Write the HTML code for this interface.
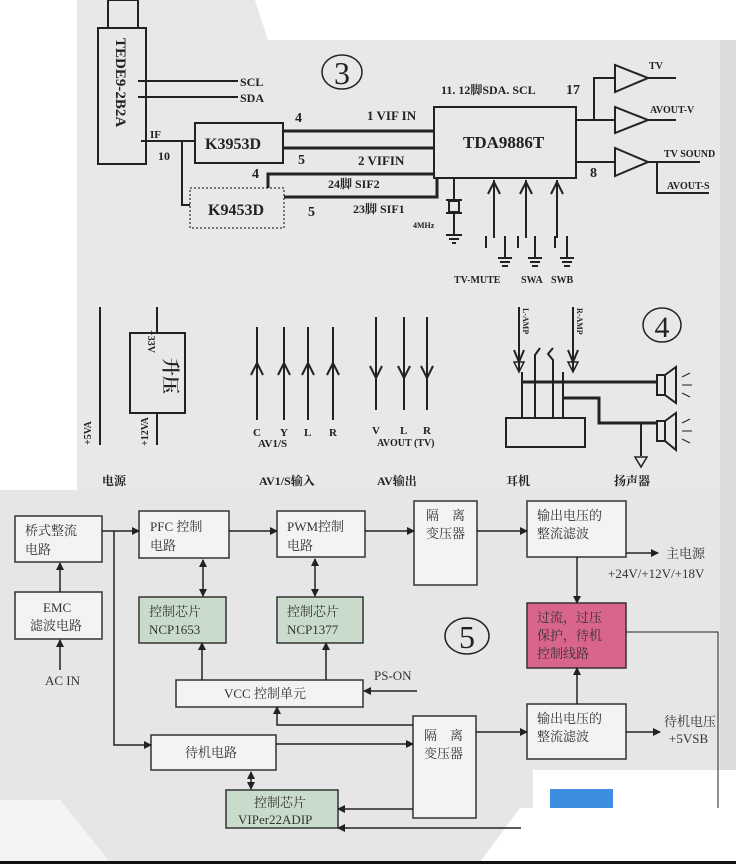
<!DOCTYPE html>
<html><head><meta charset="utf-8">
<style>
html,body{margin:0;padding:0;background:#fff;}
svg{display:block;}
.t{font-family:"Liberation Serif","Noto Serif CJK SC",serif;font-weight:bold;fill:#222;}
.c{font-family:"Liberation Serif","Noto Serif CJK SC",serif;fill:#333;font-size:13px;}
</style></head>
<body>
<svg width="736" height="864" viewBox="0 0 736 864" xmlns="http://www.w3.org/2000/svg">
<defs>
<marker id="a" markerWidth="8" markerHeight="8" refX="7" refY="4" orient="auto" markerUnits="userSpaceOnUse"><path d="M0,0 L8,4 L0,8 Z" fill="#222"/></marker>
<marker id="as" markerWidth="8" markerHeight="8" refX="1" refY="4" orient="auto" markerUnits="userSpaceOnUse"><path d="M8,0 L0,4 L8,8 Z" fill="#222"/></marker>
</defs>
<!-- backgrounds -->
<rect width="736" height="864" fill="#fff"/>
<polygon points="77,0 255,0 268,40 736,40 736,864 77,864" fill="#e8e8e8"/>
<rect x="0" y="490" width="736" height="374" fill="#e6e6e6"/>
<rect x="720" y="40" width="16" height="730" fill="#dcdcdc"/>
<polygon points="533,770 736,770 736,862 480,862 520,808 533,808" fill="#fff"/>
<polygon points="0,800 60,800 110,862 0,862" fill="#f4f4f4"/>
<rect x="0" y="861" width="736" height="3" fill="#111"/>

<g stroke="#222" stroke-width="2" fill="none">
<!-- section 3 top -->
<rect x="108" y="0" width="30" height="28"/>
<rect x="98" y="28" width="48" height="136"/>
<line x1="138" y1="81" x2="238" y2="81"/>
<line x1="138" y1="97" x2="238" y2="97"/>
<line x1="141" y1="141" x2="195" y2="141"/>
<rect x="195" y="123" width="88" height="40"/>
<polyline points="182,141 182,205 190,205"/>
<rect x="190" y="188" width="94" height="40" stroke-dasharray="2,2" stroke="#777"/>
<line x1="283" y1="131" x2="434" y2="131" stroke-width="3"/>
<line x1="283" y1="148" x2="434" y2="148" stroke-width="3"/>
<rect x="434" y="107" width="142" height="71"/>
<polyline points="268,188 268,174 434,174" stroke-width="3"/>
<polyline points="284,197 437,197 437,178" stroke-width="3"/>
<line x1="454" y1="178" x2="454" y2="200"/>
<rect x="449" y="201" width="10" height="11"/>
<line x1="446" y1="200" x2="462" y2="200"/><line x1="446" y1="213" x2="462" y2="213"/>
<line x1="454" y1="213" x2="454" y2="235"/>
<line x1="446" y1="235" x2="462" y2="235"/><line x1="449" y1="239" x2="459" y2="239"/><line x1="452" y1="243" x2="456" y2="243"/>
<g>
<line x1="494" y1="180" x2="494" y2="238"/><polyline points="488,194 494,182 500,194"/>
<line x1="486" y1="236" x2="486" y2="248"/><line x1="505" y1="236" x2="505" y2="258"/>
<line x1="498" y1="258" x2="512" y2="258"/><line x1="500" y1="262" x2="510" y2="262"/><line x1="502" y1="266" x2="508" y2="266"/>
<line x1="526" y1="180" x2="526" y2="238"/><polyline points="520,194 526,182 532,194"/>
<line x1="518" y1="236" x2="518" y2="248"/><line x1="535" y1="236" x2="535" y2="258"/>
<line x1="528" y1="258" x2="542" y2="258"/><line x1="530" y1="262" x2="540" y2="262"/><line x1="532" y1="266" x2="538" y2="266"/>
<line x1="557" y1="180" x2="557" y2="238"/><polyline points="551,194 557,182 563,194"/>
<line x1="555" y1="236" x2="555" y2="248"/><line x1="567" y1="236" x2="567" y2="258"/>
<line x1="560" y1="258" x2="574" y2="258"/><line x1="562" y1="262" x2="572" y2="262"/><line x1="564" y1="266" x2="570" y2="266"/>
</g>
<polyline points="576,120 615,120"/>
<polyline points="594,120 594,78 615,78"/>
<line x1="576" y1="162" x2="615" y2="162"/>
<polygon points="615,65 615,92 648,78"/>
<polygon points="615,107 615,133 648,120"/>
<polygon points="615,148 615,176 648,162"/>
<line x1="648" y1="78" x2="676" y2="78"/>
<line x1="648" y1="120" x2="676" y2="120"/>
<line x1="648" y1="162" x2="700" y2="162"/>
<polyline points="657,162 657,193 709,193"/>
<ellipse cx="342" cy="72" rx="20" ry="17" stroke-width="1.5"/>

<!-- section 4 -->
<line x1="100" y1="307" x2="100" y2="445"/>
<rect x="130" y="333" width="55" height="80"/>
<line x1="157" y1="307" x2="157" y2="333"/>
<line x1="157" y1="413" x2="157" y2="445"/>
<g>
<line x1="257" y1="327" x2="257" y2="420"/><polyline points="251,375 257,363 263,375"/>
<line x1="284" y1="327" x2="284" y2="420"/><polyline points="278,375 284,363 290,375"/>
<line x1="308" y1="327" x2="308" y2="420"/><polyline points="302,375 308,363 314,375"/>
<line x1="333" y1="327" x2="333" y2="420"/><polyline points="327,375 333,363 339,375"/>
<line x1="376" y1="317" x2="376" y2="410"/><polyline points="370,366 376,378 382,366"/>
<line x1="404" y1="317" x2="404" y2="410"/><polyline points="398,366 404,378 410,366"/>
<line x1="427" y1="317" x2="427" y2="410"/><polyline points="421,366 427,378 433,366"/>
</g>
<rect x="506" y="418" width="79" height="29"/>
<line x1="519" y1="307" x2="519" y2="372"/><polyline points="514,350 519,362 524,350"/>
<polygon points="514,362 524,362 519,372" stroke-width="1.5"/>
<line x1="573" y1="307" x2="573" y2="372"/><polyline points="568,350 573,362 578,350"/>
<polygon points="568,362 578,362 573,372" stroke-width="1.5"/>
<line x1="522" y1="372" x2="522" y2="418"/>
<polyline points="535,418 535,355 540,348"/>
<polyline points="553,418 553,360 548,354 553,348"/>
<line x1="563" y1="372" x2="563" y2="418"/>
<line x1="521" y1="382" x2="657" y2="382" stroke-width="3"/>
<polyline points="563,398 599,398 599,423 657,423" stroke-width="3"/>
<line x1="641" y1="423" x2="641" y2="456"/>
<polygon points="635,457 647,457 641,467" stroke-width="1.5"/>
<rect x="657" y="375" width="8" height="20"/><polygon points="665,375 676,367 676,403 665,395"/>
<rect x="657" y="421" width="8" height="20"/><polygon points="665,421 676,413 676,450 665,441"/>
<line x1="682" y1="377" x2="690" y2="373" stroke-width="1"/><line x1="682" y1="385" x2="692" y2="385" stroke-width="1"/>
<line x1="682" y1="393" x2="690" y2="397" stroke-width="1"/><line x1="682" y1="423" x2="690" y2="419" stroke-width="1"/>
<line x1="682" y1="431" x2="692" y2="431" stroke-width="1"/><line x1="682" y1="439" x2="690" y2="443" stroke-width="1"/>
<ellipse cx="662" cy="325" rx="19" ry="17" stroke-width="1.5"/>
</g>

<!-- section 5 -->
<g stroke="#333" stroke-width="1.5">
<rect x="15" y="516" width="87" height="46" fill="#f3f3f3"/>
<rect x="15" y="592" width="87" height="47" fill="#f3f3f3"/>
<rect x="139" y="511" width="90" height="47" fill="#f3f3f3"/>
<rect x="277" y="511" width="88" height="46" fill="#f3f3f3"/>
<rect x="414" y="501" width="63" height="84" fill="#f3f3f3"/>
<rect x="527" y="501" width="99" height="56" fill="#f3f3f3"/>
<rect x="139" y="597" width="87" height="46" fill="#c9dccb"/>
<rect x="277" y="597" width="86" height="46" fill="#c9dccb"/>
<rect x="527" y="603" width="99" height="65" fill="#d9658a"/>
<rect x="176" y="680" width="187" height="27" fill="#f3f3f3"/>
<rect x="151" y="735" width="125" height="35" fill="#f3f3f3"/>
<rect x="413" y="716" width="63" height="102" fill="#f3f3f3"/>
<rect x="527" y="704" width="99" height="55" fill="#f3f3f3"/>
<rect x="226" y="790" width="112" height="38" fill="#c9dccb"/>
</g>
<rect x="550" y="789" width="63" height="19" fill="#3d8ee0"/>
<g stroke="#222" stroke-width="1.5" fill="none">
<line x1="60" y1="670" x2="60" y2="640" marker-end="url(#a)"/>
<line x1="60" y1="592" x2="60" y2="563" marker-end="url(#a)"/>
<line x1="102" y1="531" x2="139" y2="531" marker-end="url(#a)"/>
<line x1="229" y1="531" x2="277" y2="531" marker-end="url(#a)"/>
<line x1="365" y1="531" x2="414" y2="531" marker-end="url(#a)"/>
<line x1="477" y1="531" x2="527" y2="531" marker-end="url(#a)"/>
<line x1="626" y1="553" x2="658" y2="553" marker-end="url(#a)"/>
<line x1="577" y1="557" x2="577" y2="603" marker-end="url(#a)"/>
<line x1="203" y1="560" x2="203" y2="596" marker-end="url(#a)" marker-start="url(#as)"/>
<line x1="315" y1="559" x2="315" y2="596" marker-end="url(#a)" marker-start="url(#as)"/>
<line x1="202" y1="680" x2="202" y2="643" marker-end="url(#a)"/>
<line x1="326" y1="680" x2="326" y2="643" marker-end="url(#a)"/>
<line x1="417" y1="691" x2="364" y2="691" marker-end="url(#a)"/>
<polyline points="114,531 114,745 151,745" marker-end="url(#a)"/>
<line x1="276" y1="744" x2="413" y2="744" marker-end="url(#a)"/>
<polyline points="413,725 277,725 277,707" marker-end="url(#a)"/>
<line x1="476" y1="732" x2="527" y2="732" marker-end="url(#a)"/>
<line x1="577" y1="704" x2="577" y2="668" marker-end="url(#a)"/>
<line x1="626" y1="732" x2="660" y2="732" marker-end="url(#a)"/>
<line x1="251" y1="772" x2="251" y2="789" marker-end="url(#a)" marker-start="url(#as)"/>
<line x1="413" y1="809" x2="338" y2="809" marker-end="url(#a)"/>
<line x1="521" y1="828" x2="338" y2="828" marker-end="url(#a)"/>
<polyline points="626,632 718,632 718,808" stroke-width="1"/>
<ellipse cx="467" cy="636" rx="22" ry="18"/>
</g>

<!-- text section top -->
<text class="t" font-size="15" transform="translate(116,38) rotate(90)">TEDE9-2B2A</text>
<text class="t" font-size="12" x="240" y="86">SCL</text>
<text class="t" font-size="12" x="240" y="102">SDA</text>
<text class="t" font-size="11" x="150" y="138">IF</text>
<text class="t" font-size="12" x="158" y="160">10</text>
<text class="t" font-size="16" x="205" y="149">K3953D</text>
<text class="t" font-size="16" x="208" y="215">K9453D</text>
<text class="t" font-size="14" x="295" y="122">4</text>
<text class="t" font-size="14" x="298" y="164">5</text>
<text class="t" font-size="13" x="367" y="120">1 VIF IN</text>
<text class="t" font-size="13" x="358" y="165">2 VIFIN</text>
<text class="t" font-size="14" x="252" y="178">4</text>
<text class="t" font-size="12" x="328" y="188">24脚 SIF2</text>
<text class="t" font-size="14" x="308" y="216">5</text>
<text class="t" font-size="12" x="353" y="213">23脚 SIF1</text>
<text class="t" font-size="8" x="413" y="228">4MHz</text>
<text class="t" font-size="17" x="463" y="148">TDA9886T</text>
<text class="t" font-size="12" x="441" y="94">11. 12脚SDA. SCL</text>
<text class="t" font-size="14" x="566" y="94">17</text>
<text class="t" font-size="14" x="590" y="177">8</text>
<text class="t" font-size="10" x="454" y="283">TV-MUTE</text>
<text class="t" font-size="10" x="521" y="283">SWA</text>
<text class="t" font-size="10" x="551" y="283">SWB</text>
<text class="t" font-size="10" x="649" y="69">TV</text>
<text class="t" font-size="10" x="650" y="113">AVOUT-V</text>
<text class="t" font-size="10" x="664" y="157">TV SOUND</text>
<text class="t" font-size="10" x="667" y="189">AVOUT-S</text>
<text x="342" y="84" text-anchor="middle" font-family="Liberation Serif,serif" font-size="32" fill="#222">3</text>

<!-- text section 4 -->
<text class="t" font-size="10" transform="translate(91,445) rotate(-90)">+5VA</text>
<text class="t" font-size="10" transform="translate(148,330) rotate(90)">+33V</text>
<text class="t" font-size="10" transform="translate(148,446) rotate(-90)">+12VA</text>
<text class="t" font-size="18" transform="translate(164,358) rotate(90)">升压</text>
<text class="t" font-size="11" x="253" y="436">C</text><text class="t" font-size="11" x="280" y="436">Y</text>
<text class="t" font-size="11" x="304" y="436">L</text><text class="t" font-size="11" x="329" y="436">R</text>
<text class="t" font-size="11" x="258" y="447">AV1/S</text>
<text class="t" font-size="11" x="372" y="434">V</text><text class="t" font-size="11" x="400" y="434">L</text>
<text class="t" font-size="11" x="423" y="434">R</text>
<text class="t" font-size="10" x="377" y="446">AVOUT (TV)</text>
<text class="t" font-size="8" transform="translate(523,308) rotate(90)">L-AMP</text>
<text class="t" font-size="8" transform="translate(577,308) rotate(90)">R-AMP</text>
<text x="662" y="337" text-anchor="middle" font-family="Liberation Serif,serif" font-size="30" fill="#222">4</text>
<text class="t" font-size="12" x="102" y="485">电源</text>
<text class="t" font-size="12" x="259" y="485">AV1/S输入</text>
<text class="t" font-size="12" x="377" y="485">AV输出</text>
<text class="t" font-size="12" x="506" y="485">耳机</text>
<text class="t" font-size="12" x="614" y="485">扬声器</text>

<!-- text section 5 -->
<text class="c" x="25" y="535">桥式整流</text><text class="c" x="25" y="554">电路</text>
<text class="c" x="43" y="612">EMC</text><text class="c" x="30" y="630">滤波电路</text>
<text class="c" x="45" y="685">AC IN</text>
<text class="c" x="150" y="531">PFC 控制</text><text class="c" x="150" y="550">电路</text>
<text class="c" x="287" y="531">PWM控制</text><text class="c" x="287" y="550">电路</text>
<text class="c" x="426" y="520">隔　离</text><text class="c" x="426" y="538">变压器</text>
<text class="c" x="537" y="520">输出电压的</text><text class="c" x="537" y="538">整流滤波</text>
<text class="c" x="666" y="558">主电源</text>
<text class="c" x="608" y="578" font-size="12">+24V/+12V/+18V</text>
<text class="c" x="149" y="616">控制芯片</text><text class="c" x="149" y="634">NCP1653</text>
<text class="c" x="287" y="616">控制芯片</text><text class="c" x="287" y="634">NCP1377</text>
<text class="c" x="537" y="622" fill="#5a1a2a">过流，过压</text>
<text class="c" x="537" y="640" fill="#5a1a2a">保护，待机</text>
<text class="c" x="537" y="658" fill="#5a1a2a">控制线路</text>
<text x="467" y="648" text-anchor="middle" font-family="Liberation Serif,serif" font-size="32" fill="#222">5</text>
<text class="c" x="374" y="680">PS-ON</text>
<text class="c" x="224" y="698">VCC 控制单元</text>
<text class="c" x="185" y="757">待机电路</text>
<text class="c" x="424" y="740">隔　离</text><text class="c" x="424" y="758">变压器</text>
<text class="c" x="537" y="723">输出电压的</text><text class="c" x="537" y="741">整流滤波</text>
<text class="c" x="664" y="726" font-size="12">待机电压</text>
<text class="c" x="669" y="743" font-size="12">+5VSB</text>
<text class="c" x="254" y="807">控制芯片</text><text class="c" x="238" y="824">VIPer22ADIP</text>
</svg>
</body></html>
